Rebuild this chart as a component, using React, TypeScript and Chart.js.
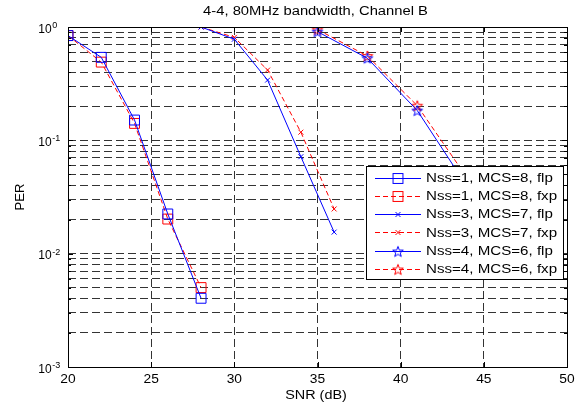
import React, { useEffect, useRef } from 'react';
import { Chart, registerables } from 'chart.js';

Chart.register(...registerables);

const titleText = '4-4, 80MHz bandwidth, Channel B';
const xLabel = 'SNR (dB)';
const yLabel = 'PER';
const xTicks = [20, 25, 30, 35, 40, 45, 50];
const yMajor = [0.001, 0.01, 0.1, 1];
const yMajorExp = ['-3', '-2', '-1', '0'];
const yMantissas = [1, 2, 3, 4, 5, 6, 7, 8, 9];

const snr1 = [20, 22, 24, 26, 28];
const per1flp = [0.84, 0.54, 0.151, 0.0224, 0.00404];
const per1fxp = [0.84, 0.49, 0.141, 0.0202, 0.00502];
const snr3 = [28, 30, 32, 34, 36];
const per3flp = [1.0, 0.78, 0.34, 0.0717, 0.0155];
const per3fxp = [1.0, 0.81, 0.417, 0.118, 0.0248];
const snr4 = [35, 38, 41, 44];
const per4flp = [0.91, 0.53, 0.183, 0.039];
const per4fxp = [0.95, 0.555, 0.202, 0.0466];

const legendLabels = [
  'Nss=1, MCS=8, flp',
  'Nss=1, MCS=8, fxp',
  'Nss=3, MCS=7, flp',
  'Nss=3, MCS=7, fxp',
  'Nss=4, MCS=6, flp',
  'Nss=4, MCS=6, fxp',
];

const BLUE = '#0000ff';
const RED = '#ff0000';
const FONT = '"Liberation Sans", Arial, Helvetica, sans-serif';

function starCanvas(color: string) {
  const s = 14;
  const c = document.createElement('canvas');
  c.width = s;
  c.height = s;
  const g = c.getContext('2d')!;
  g.strokeStyle = color;
  g.lineWidth = 1;
  g.beginPath();
  const R = 5.6;
  const r = 2.3;
  for (let i = 0; i < 10; i++) {
    const ang = -Math.PI / 2 + (i * Math.PI) / 5;
    const rad = i % 2 ? r : R;
    const px = s / 2 + rad * Math.cos(ang);
    const py = s / 2 + 0.5 + rad * Math.sin(ang);
    if (i === 0) g.moveTo(px, py);
    else g.lineTo(px, py);
  }
  g.closePath();
  g.stroke();
  return c;
}

function txt(ctx: CanvasRenderingContext2D, s: string, x: number, y: number, size: number, align: CanvasTextAlign, sx: number) {
  ctx.save();
  ctx.font = `${size}px ${FONT}`;
  ctx.fillStyle = '#000';
  ctx.textAlign = align;
  ctx.textBaseline = 'alphabetic';
  ctx.translate(x, y);
  ctx.scale(sx, 1);
  ctx.fillText(s, 0, 0);
  ctx.restore();
}

export default function App() {
  const ref = useRef<HTMLCanvasElement>(null);

  useEffect(() => {
    document.body.style.margin = '0';
    const canvas = ref.current!;
    const starBlue = starCanvas(BLUE);
    const starRed = starCanvas(RED);

    const yGridTicks: number[] = [];
    for (let d = 0; d < yMajor.length - 1; d++) {
      for (const m of yMantissas) yGridTicks.push(+(m * yMajor[d]).toPrecision(3));
    }
    yGridTicks.push(yMajor[yMajor.length - 1]);

    const pts = (xs: number[], ys: number[]) => xs.map((v, i) => ({ x: v, y: ys[i] }));

    const styles = [
      { color: BLUE, dash: [] as number[], marker: 'rect' as any, radius: 7 },
      { color: RED, dash: [5, 3], marker: 'rect' as any, radius: 7 },
      { color: BLUE, dash: [] as number[], marker: 'crossRot' as any, radius: 3.5 },
      { color: RED, dash: [5, 3], marker: 'crossRot' as any, radius: 3.5 },
      { color: BLUE, dash: [] as number[], marker: starBlue as any, radius: 6 },
      { color: RED, dash: [5, 3], marker: starRed as any, radius: 6 },
    ];
    const seriesData = [
      pts(snr1, per1flp),
      pts(snr1, per1fxp),
      pts(snr3, per3flp),
      pts(snr3, per3fxp),
      pts(snr4, per4flp),
      pts(snr4, per4fxp),
    ];

    const datasets = seriesData.map((d, i) => ({
      label: legendLabels[i],
      data: d,
      borderColor: styles[i].color,
      borderWidth: 1,
      borderDash: styles[i].dash,
      pointStyle: styles[i].marker,
      pointRadius: styles[i].radius,
      pointHoverRadius: styles[i].radius,
      pointBorderColor: styles[i].color,
      pointBackgroundColor: 'rgba(0,0,0,0)',
      pointBorderWidth: 1,
      tension: 0,
      fill: false,
    }));

    const drawMarker = (ctx: CanvasRenderingContext2D, i: number, cx: number, cy: number) => {
      const st = styles[i];
      ctx.save();
      ctx.setLineDash([]);
      ctx.strokeStyle = st.color;
      ctx.lineWidth = 1;
      if (st.marker === 'rect') {
        const h = Math.SQRT1_2 * st.radius;
        ctx.strokeRect(cx - h, cy - h, 2 * h, 2 * h);
      } else if (st.marker === 'crossRot') {
        const h = Math.SQRT1_2 * st.radius;
        ctx.beginPath();
        ctx.moveTo(cx - h, cy - h);
        ctx.lineTo(cx + h, cy + h);
        ctx.moveTo(cx - h, cy + h);
        ctx.lineTo(cx + h, cy - h);
        ctx.stroke();
      } else {
        const img = st.marker as HTMLCanvasElement;
        ctx.drawImage(img, cx - img.width / 2, cy - img.height / 2);
      }
      ctx.restore();
    };

    const matlabPlugin = {
      id: 'matlabDeco',
      afterDraw(chart: any) {
        const { ctx, chartArea: a, scales } = chart;
        const xs = scales.x;
        const ys = scales.y;
        ctx.save();
        // ticks inside
        ctx.strokeStyle = '#000';
        ctx.lineWidth = 1;
        ctx.setLineDash([]);
        ctx.beginPath();
        for (const t of xTicks) {
          const px = Math.round(xs.getPixelForValue(t)) + 0.5;
          ctx.moveTo(px, a.bottom);
          ctx.lineTo(px, a.bottom - 5);
          ctx.moveTo(px, a.top);
          ctx.lineTo(px, a.top + 5);
        }
        for (const t of yGridTicks) {
          const py = Math.round(ys.getPixelForValue(t)) + 0.5;
          const len = yMajor.includes(t) ? 5 : 3;
          ctx.moveTo(a.left, py);
          ctx.lineTo(a.left + len, py);
          ctx.moveTo(a.right, py);
          ctx.lineTo(a.right - len, py);
        }
        ctx.stroke();
        // axes box
        ctx.strokeRect(Math.round(a.left) + 0.5, Math.round(a.top) + 0.5, Math.round(a.right - a.left), Math.round(a.bottom - a.top));

        // x tick labels
        for (const t of xTicks) {
          txt(ctx, String(t), xs.getPixelForValue(t), a.bottom + 16, 12, 'center', 1.15);
        }
        // y tick labels 10^n
        yMajor.forEach((v, i) => {
          const py = ys.getPixelForValue(v);
          txt(ctx, '10', 38.3, py + 5.5, 12, 'left', 1);
          txt(ctx, yMajorExp[i], 52.3, py + 1, 9, 'left', 1);
        });
        // axis titles
        txt(ctx, xLabel, (a.left + a.right) / 2 - 1.5, a.bottom + 32, 12, 'center', 1.2);
        ctx.save();
        ctx.translate(24, (a.top + a.bottom) / 2);
        ctx.rotate(-Math.PI / 2);
        txt(ctx, yLabel, 0, 0, 12, 'center', 1.09);
        ctx.restore();
        // title
        txt(ctx, titleText, (a.left + a.right) / 2 - 2, 15, 12, 'center', 1.23);

        // legend
        const lx = 366.5, ly = 166.5, lw = 197, lh = 113;
        ctx.fillStyle = '#fff';
        ctx.fillRect(lx, ly, lw, lh);
        ctx.strokeStyle = '#000';
        ctx.lineWidth = 1;
        ctx.setLineDash([]);
        ctx.strokeRect(lx, ly, lw, lh);
        legendLabels.forEach((lab, i) => {
          const cy = 177.5 + i * 18.3;
          const st = styles[i];
          ctx.save();
          ctx.strokeStyle = st.color;
          ctx.lineWidth = 1;
          ctx.setLineDash(st.dash);
          ctx.beginPath();
          ctx.moveTo(375, Math.round(cy) + 0.5);
          ctx.lineTo(421, Math.round(cy) + 0.5);
          ctx.stroke();
          ctx.restore();
          drawMarker(ctx, i, 398, Math.round(cy) + 0.5);
          txt(ctx, lab, 426, cy + 4.3, 12, 'left', 1.26);
        });
        ctx.restore();
      },
    };

    const chart = new Chart(canvas, {
      type: 'line',
      data: { datasets: datasets as any },
      options: {
        animation: false,
        responsive: false,
        devicePixelRatio: 1,
        layout: { padding: { left: 0, right: 18, top: 27, bottom: 0 } },
        plugins: {
          legend: { display: false },
          title: { display: false },
          tooltip: { enabled: false },
        },
        scales: {
          x: {
            type: 'linear',
            min: 20,
            max: 50,
            afterBuildTicks: (scale: any) => {
              scale.ticks = xTicks.map((v) => ({ value: v }));
            },
            afterFit: (scale: any) => {
              scale.height = 42;
            },
            ticks: { display: false },
            grid: { color: 'rgba(0,0,0,0.8)', lineWidth: 1, drawTicks: false },
            border: { display: false, dash: [8, 4] },
          },
          y: {
            type: 'logarithmic',
            min: 0.001,
            max: 1,
            afterBuildTicks: (scale: any) => {
              scale.ticks = yGridTicks.map((v) => ({ value: v }));
            },
            afterFit: (scale: any) => {
              scale.width = 68;
            },
            ticks: { display: false },
            grid: { color: 'rgba(0,0,0,0.8)', lineWidth: 1, drawTicks: false },
            border: { display: false, dash: [8, 4] },
          },
        },
      },
      plugins: [matlabPlugin],
    });

    return () => chart.destroy();
  }, []);

  return <canvas ref={ref} width={585} height={409} style={{ display: 'block' }} />;
}
